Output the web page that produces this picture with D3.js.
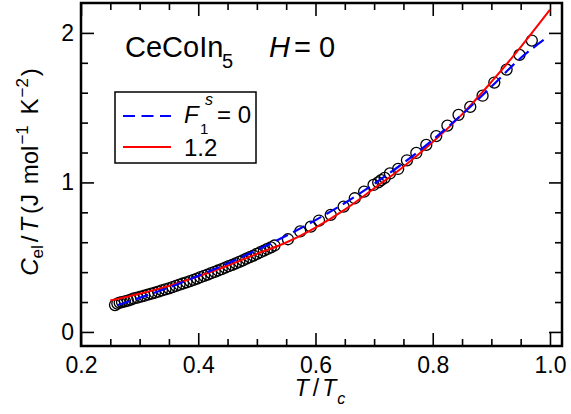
<!DOCTYPE html>
<html>
<head>
<meta charset="utf-8">
<script src="https://cdn.jsdelivr.net/npm/d3@7"></script>
<style>
  body { margin: 0; background: #fff; }
  svg { font-family: "Liberation Sans", Arial, sans-serif; }
</style>
</head>
<body>
<div id="chart"></div>
<script>
// measured points (T/Tc, C/T)
var dataT = [0.258,0.262,0.266,0.270,0.275,0.280,0.285,0.290,0.296,0.302,0.308,0.314,0.320,0.326,0.332,0.338,0.344,0.350,0.356,0.362,0.368,0.374,0.380,0.386,0.392,0.398,0.404,0.410,0.416,0.422,0.428,0.434,0.440,0.446,0.452,0.458,0.464,0.470,0.476,0.482,0.488,0.494,0.500,0.506,0.512,0.518,0.524,0.530,
  0.553,0.574,0.592,0.606,0.626,0.648,0.667,0.683,0.699,0.707,0.712,0.718,0.727,0.741,0.756,0.772,0.789,0.806,0.825,0.844,0.864,0.885,0.905,0.926,0.948,0.969];
var dataC = [0.180,0.190,0.196,0.200,0.205,0.210,0.216,0.224,0.230,0.236,0.242,0.250,0.256,0.262,0.270,0.278,0.285,0.292,0.300,0.308,0.316,0.324,0.332,0.340,0.348,0.357,0.366,0.375,0.384,0.393,0.402,0.411,0.420,0.430,0.440,0.449,0.459,0.469,0.479,0.490,0.500,0.511,0.522,0.533,0.544,0.555,0.566,0.578,
  0.620,0.672,0.704,0.745,0.783,0.838,0.894,0.938,0.983,1.000,1.015,1.030,1.060,1.090,1.148,1.197,1.251,1.310,1.380,1.452,1.505,1.580,1.668,1.755,1.853,1.949];

// calculated curves
var blueT = [0.263,0.30,0.35,0.40,0.45,0.50,0.55,0.60,0.65,0.70,0.75,0.80,0.85,0.90,0.95,0.994];
var blueC = [0.180,0.228,0.297,0.375,0.458,0.548,0.643,0.748,0.862,0.990,1.130,1.285,1.455,1.640,1.832,1.967];
var redT = [0.25,0.30,0.35,0.40,0.45,0.50,0.55,0.60,0.65,0.70,0.75,0.80,0.85,0.90,0.95,1.00];
var redC = [0.210,0.255,0.308,0.372,0.443,0.522,0.598,0.698,0.818,0.960,1.105,1.270,1.455,1.672,1.905,2.155];

var xMajor = [0.2,0.4,0.6,0.8,1.0];
var xLabels = ['0.2','0.4','0.6','0.8','1.0'];
var yMajor = [0,1,2];

var W = 571, H = 414;
var mLeft = 81, mRight = 562, mTop = 3, mBottom = 346;

var svg = d3.select('#chart').append('svg')
  .attr('width', W)
  .attr('height', H);

var x = d3.scaleLinear().domain([0.2, 1.0205]).range([mLeft, mRight]);
var y = d3.scaleLinear().domain([-0.094, 2.2]).range([mBottom, mTop]);

var xMinor = d3.range(0.2, 1.0001, 0.05).filter(function(v){ return Math.abs(v*5 - Math.round(v*5)) > 1e-6; });
var yMinor = d3.range(0, 2.2, 0.2).filter(function(v){ return Math.abs(v - Math.round(v)) > 1e-6; });

// axes (ticks inward, mirrored)
function styleAxis(g) {
  g.select('.domain').remove();
  g.selectAll('line').attr('stroke', '#000').attr('stroke-width', 1.6);
  g.selectAll('text').attr('fill', '#000').style('font-size', '23px').style('font-family', '"Liberation Sans", Arial, sans-serif');
}

svg.append('g').attr('transform', 'translate(0,' + mBottom + ')')
  .call(d3.axisBottom(x).tickValues(xMajor).tickSize(-13).tickPadding(11)
    .tickFormat(function(d, i){ return xLabels[i]; }))
  .call(styleAxis);
svg.append('g').attr('transform', 'translate(0,' + mBottom + ')')
  .call(d3.axisBottom(x).tickValues(xMinor).tickSize(-7).tickFormat(''))
  .call(styleAxis);
svg.append('g').attr('transform', 'translate(0,' + mTop + ')')
  .call(d3.axisTop(x).tickValues(xMajor).tickSize(-13).tickFormat(''))
  .call(styleAxis);
svg.append('g').attr('transform', 'translate(0,' + mTop + ')')
  .call(d3.axisTop(x).tickValues(xMinor).tickSize(-7).tickFormat(''))
  .call(styleAxis);

svg.append('g').attr('transform', 'translate(' + mLeft + ',0)')
  .call(d3.axisLeft(y).tickValues(yMajor).tickSize(-13).tickPadding(7).tickFormat(d3.format('d')))
  .call(styleAxis);
svg.append('g').attr('transform', 'translate(' + mLeft + ',0)')
  .call(d3.axisLeft(y).tickValues(yMinor).tickSize(-7).tickFormat(''))
  .call(styleAxis);
svg.append('g').attr('transform', 'translate(' + mRight + ',0)')
  .call(d3.axisRight(y).tickValues(yMajor).tickSize(-13).tickFormat(''))
  .call(styleAxis);
svg.append('g').attr('transform', 'translate(' + mRight + ',0)')
  .call(d3.axisRight(y).tickValues(yMinor).tickSize(-7).tickFormat(''))
  .call(styleAxis);

// frame
svg.append('rect')
  .attr('x', mLeft).attr('y', mTop)
  .attr('width', mRight - mLeft).attr('height', mBottom - mTop)
  .attr('fill', 'none').attr('stroke', '#000').attr('stroke-width', 2.5);

// data circles
svg.append('g').selectAll('circle')
  .data(dataT)
  .enter().append('circle')
  .attr('cx', function(d){ return x(d); })
  .attr('cy', function(d, i){ return y(dataC[i]); })
  .attr('r', 5.5)
  .attr('fill', 'none')
  .attr('stroke', '#000')
  .attr('stroke-width', 1.3);

// curves
var line = d3.line()
  .x(function(d){ return x(d[0]); })
  .y(function(d){ return y(d[1]); })
  .curve(d3.curveMonotoneX);

svg.append('path')
  .datum(d3.zip(redT, redC))
  .attr('d', line)
  .attr('fill', 'none').attr('stroke', '#ff0000').attr('stroke-width', 2);

svg.append('path')
  .datum(d3.zip(blueT, blueC))
  .attr('d', line)
  .attr('fill', 'none').attr('stroke', '#0000ff').attr('stroke-width', 2.2)
  .attr('stroke-dasharray', '13,6');

// title
var title = svg.append('g').style('fill', '#000');
title.append('text').attr('x', 125).attr('y', 57).style('font-size', '29px').text('CeCoIn');
title.append('text').attr('x', 222).attr('y', 68).style('font-size', '20px').text('5');
title.append('text').attr('x', 269).attr('y', 57).style('font-size', '29px').style('font-style', 'italic').text('H');
title.append('text').attr('x', 294).attr('y', 57).style('font-size', '29px').text('= 0');

// legend
svg.append('rect')
  .attr('x', 115).attr('y', 92).attr('width', 141).attr('height', 71)
  .attr('fill', '#fff').attr('stroke', '#000').attr('stroke-width', 1.5);
svg.append('line').attr('x1', 123).attr('x2', 171).attr('y1', 116).attr('y2', 116)
  .attr('stroke', '#0000ff').attr('stroke-width', 2.2).attr('stroke-dasharray', '12,6.5');
svg.append('line').attr('x1', 123).attr('x2', 171).attr('y1', 147).attr('y2', 147)
  .attr('stroke', '#ff0000').attr('stroke-width', 2);
svg.append('text').attr('x', 184).attr('y', 123).style('font-size', '24px').style('font-style', 'italic').text('F');
svg.append('text').attr('x', 200).attr('y', 134).style('font-size', '15px').text('1');
svg.append('text').attr('x', 205).attr('y', 105).style('font-size', '16px').style('font-style', 'italic').text('s');
svg.append('text').attr('x', 217).attr('y', 123).style('font-size', '24px').text('= 0');
svg.append('text').attr('x', 184).attr('y', 156).style('font-size', '24px').text('1.2');

// x axis title
var xt = svg.append('text').attr('x', 320).attr('y', 396).attr('text-anchor', 'middle').style('font-size', '23px');
xt.append('tspan').style('font-style', 'italic').text('T');
xt.append('tspan').attr('dx', 4).text('/');
xt.append('tspan').attr('dx', 3).style('font-style', 'italic').text('T');
xt.append('tspan').attr('dx', 1).attr('dy', 8).style('font-size', '16px').style('font-style', 'italic').text('c');

// y axis title
var yt = svg.append('text')
  .attr('transform', 'translate(38,172) rotate(-90)')
  .attr('text-anchor', 'middle').style('font-size', '24px');
yt.append('tspan').style('font-style', 'italic').text('C');
yt.append('tspan').attr('dy', 5).style('font-size', '17px').text('el');
yt.append('tspan').attr('dx', 3).attr('dy', -5).text('/');
yt.append('tspan').attr('dx', 3).style('font-style', 'italic').text('T');
yt.append('tspan').attr('dx', 4).text('(J');
yt.append('tspan').attr('dx', 3).text(' mol');
yt.append('tspan').attr('dx', 1).attr('dy', -10).style('font-size', '17px').text('\u22121');
yt.append('tspan').attr('dx', 4).attr('dy', 10).text(' K');
yt.append('tspan').attr('dx', 1).attr('dy', -10).style('font-size', '17px').text('\u22122');
yt.append('tspan').attr('dx', 2).attr('dy', 10).text(')');
</script>
</body>
</html>
